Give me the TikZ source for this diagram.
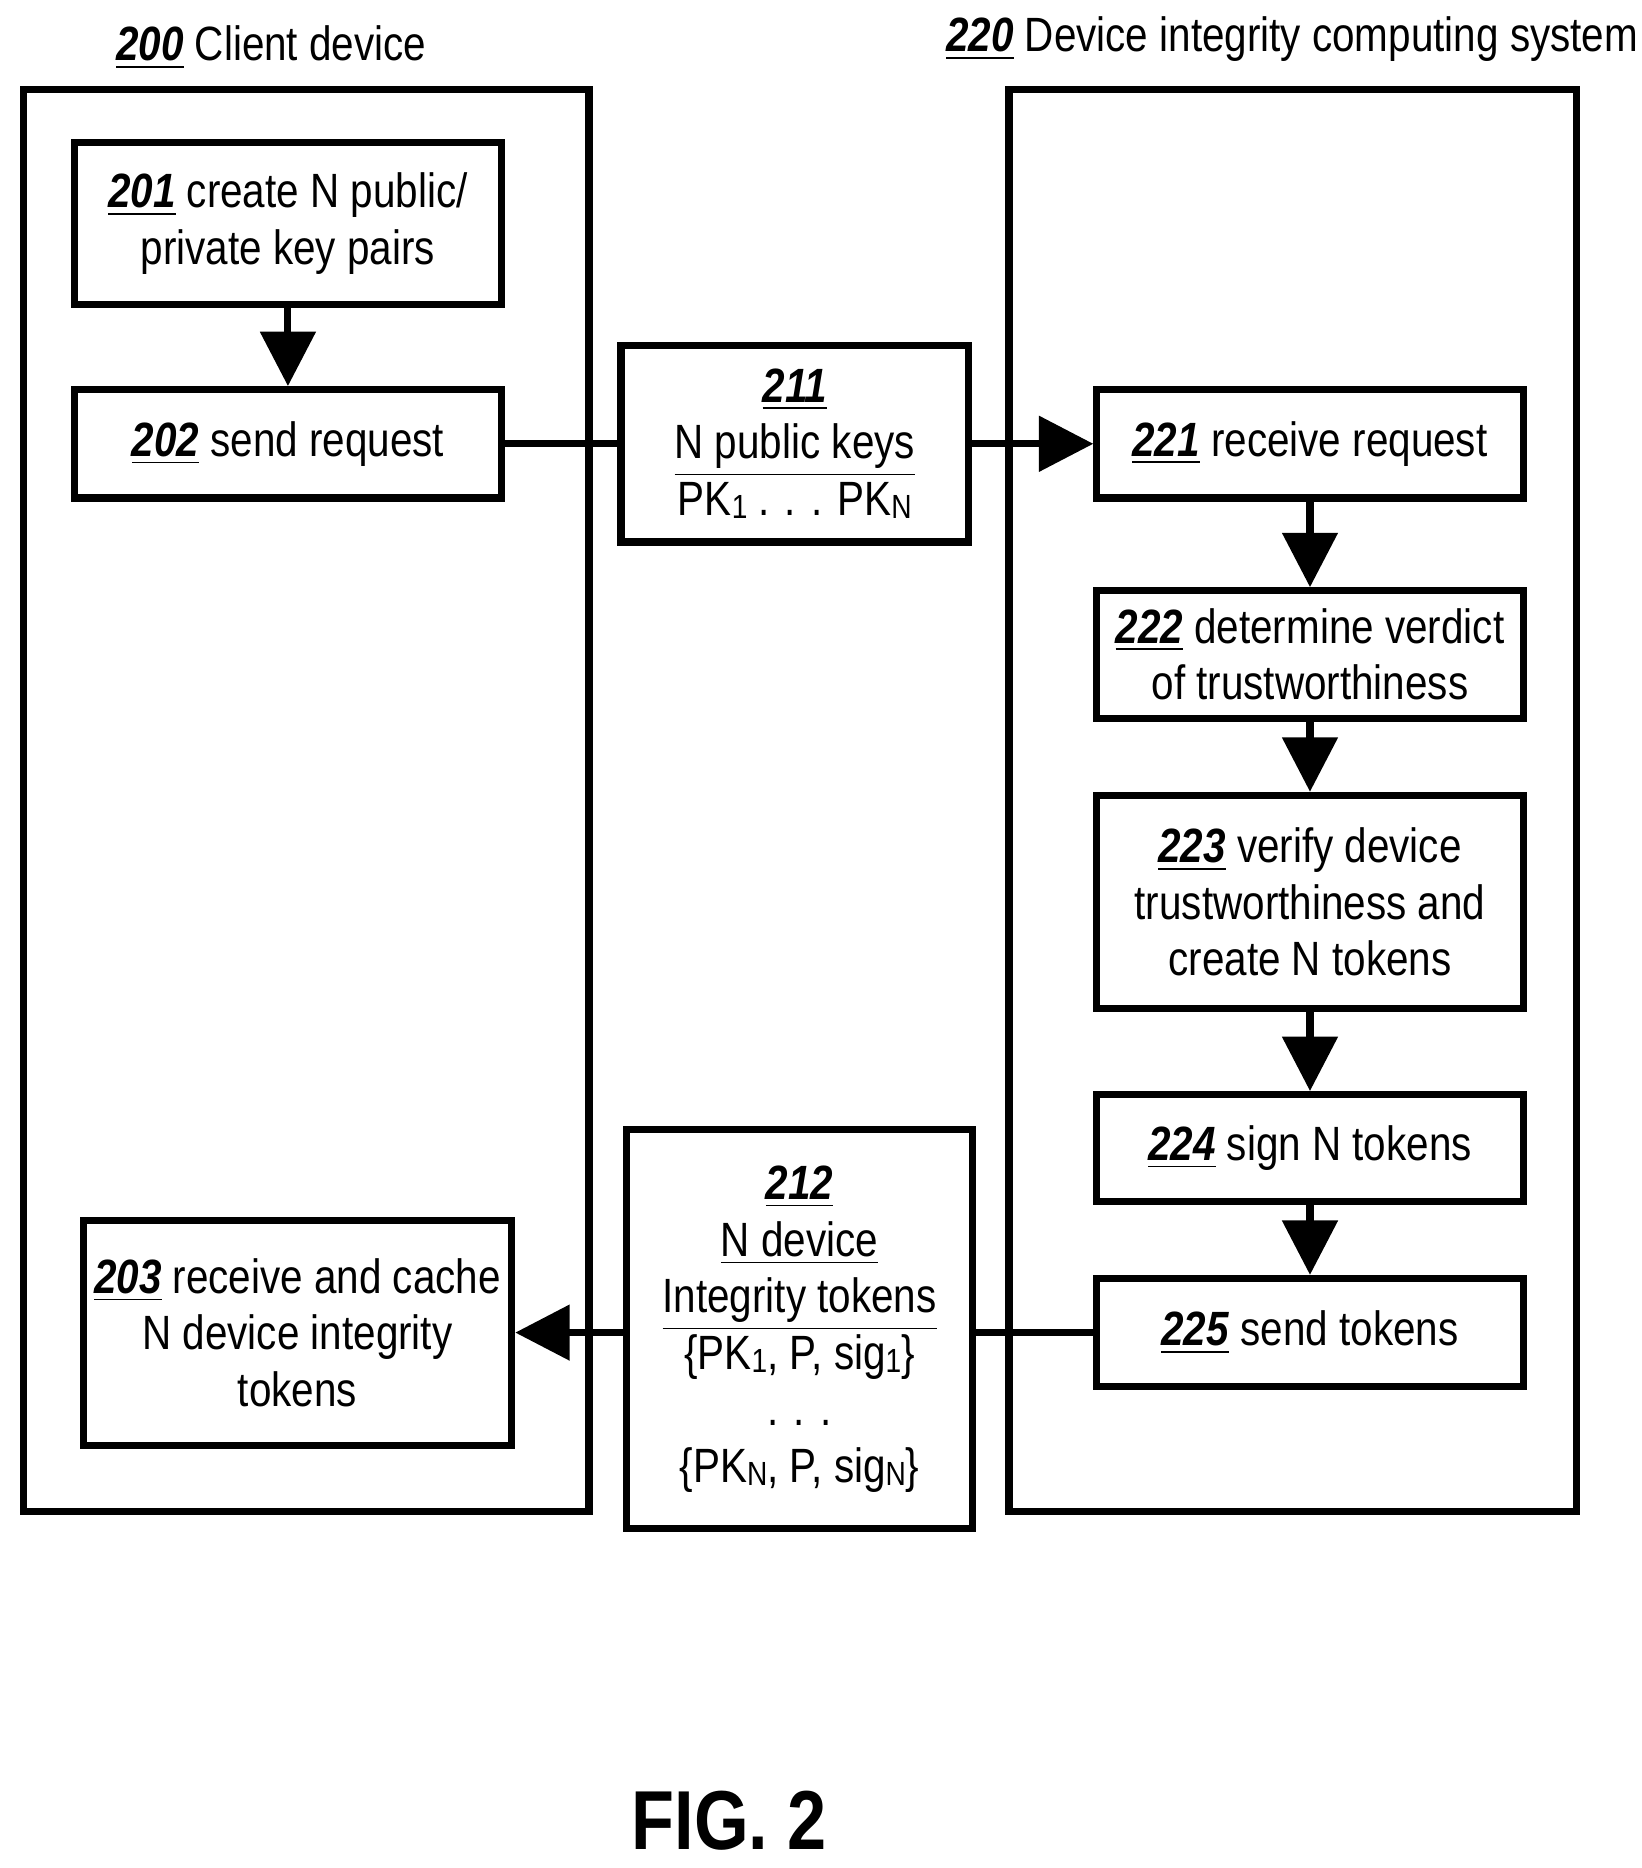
\documentclass[tikz,border=0pt]{standalone}
\usepackage{fontspec}
\setmainfont[FakeStretch=0.84]{Liberation Sans}
\usetikzlibrary{positioning, arrows.meta}
\newcommand{\refn}[1]{\underline{\textbf{\textit{#1}}}}
\newcommand{\sbs}[1]{\raisebox{-0.15ex}{\fontsize{8}{9}\selectfont #1}}

\begin{document}
\begin{tikzpicture}[x=0.01cm,y=-0.01cm,
    txt/.style={font=\fontsize{11.5}{13.5}\selectfont},
    box/.style={draw,line width=1.7pt,align=center,txt,inner sep=0pt},
    flow/.style={line width=1.7pt,-{Triangle[length=13pt,width=13pt]}},
    link/.style={line width=1.7pt}]
\useasboundingbox (0,0) rectangle (1380,1570);
% the two systems
\draw[line width=1.7pt] (20,75) rectangle (495,1270);
\draw[line width=1.7pt] (848,75) rectangle (1325,1270);
\node[txt] (t200) at (228,40) {\refn{200} Client device};
\node[txt] (t220) at (1086,33) {\refn{220} Device integrity computing system};

% client side
\node[box,minimum width=3.59cm,minimum height=1.36cm] (b201) at (242,188) {\refn{201} create N public/\\private key pairs};
\node[box,minimum width=3.59cm,minimum height=0.91cm] (b202) at (242,373) {\refn{202} send request};
\node[box,minimum width=3.6cm,minimum height=1.89cm] (b203) at (250,1120) {\refn{203} receive and cache\\N device integrity\\tokens};

% messages
\node[box,minimum width=2.92cm,minimum height=1.65cm] (b211) at (668,373) {\refn{211}\\\underline{N public keys}\\PK\sbs{1} . . . PK\sbs{N}};
\node[box,minimum width=2.91cm,minimum height=3.35cm] (b212) at (672,1117) {\refn{212}\\\underline{N device}\\\underline{Integrity tokens}\\\{PK\sbs{1}, P, sig\sbs{1}\}\\. . .\\\{PK\sbs{N}, P, sig\sbs{N}\}};

% integrity system side
\node[box,minimum width=3.58cm,minimum height=0.91cm] (b221) at (1101,373) {\refn{221} receive request};
\node[box,minimum width=3.58cm,minimum height=1.07cm] (b222) at (1101,550) {\refn{222} determine verdict\\of trustworthiness};
\node[box,minimum width=3.58cm,minimum height=1.79cm] (b223) at (1101,758) {\refn{223} verify device\\trustworthiness and\\create N tokens};
\node[box,minimum width=3.58cm,minimum height=0.9cm] (b224) at (1101,965) {\refn{224} sign N tokens};
\node[box,minimum width=3.58cm,minimum height=0.91cm] (b225) at (1101,1120) {\refn{225} send tokens};

\draw[flow] (b201) -- (b202);
\draw[link] (b202) -- (b211);
\draw[flow] (b211) -- (b221);
\draw[flow] (b221) -- (b222);
\draw[flow] (b222) -- (b223);
\draw[flow] (b223) -- (b224);
\draw[flow] (b224) -- (b225);
\draw[link] (b225) -- (b225 -| b212.east);
\draw[flow] (b212.west |- b203) -- (b203);

\node[font=\bfseries\fontsize{20}{24}\selectfont] (fig) at (613,1530) {FIG. 2};
\end{tikzpicture}
\end{document}
